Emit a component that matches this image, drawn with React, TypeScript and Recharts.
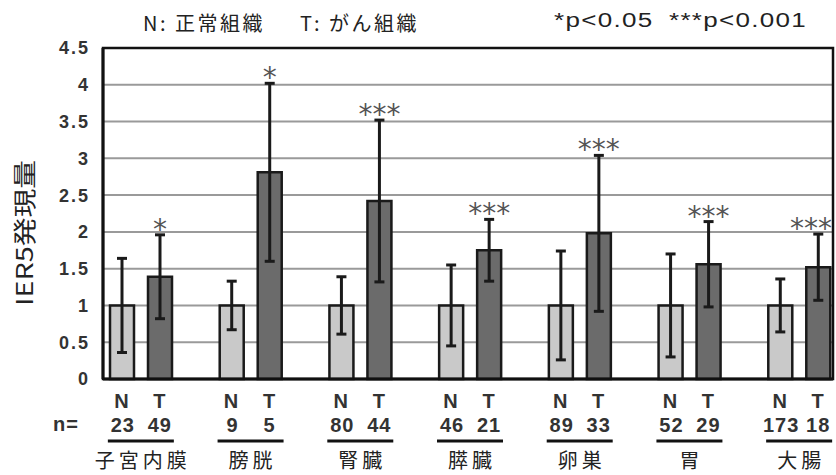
import { BarChart, Bar, XAxis, YAxis, CartesianGrid, ErrorBar, LabelList, Customized } from "recharts";

// tissue types (x categories)
const organs = ["子宮内膜", "膀胱", "腎臓", "膵臓", "卵巣", "胃", "大腸"];
// N = normal tissue, T = cancer tissue
const normalMean = [1, 1, 1, 1, 1, 1, 1];
const normalErr = [0.64, 0.33, 0.39, 0.55, 0.74, 0.7, 0.36];
const tumorMean = [1.39, 2.81, 2.42, 1.75, 1.98, 1.56, 1.52];
const tumorErr = [0.57, 1.21, 1.1, 0.42, 1.06, 0.58, 0.45];
const nNormal = [23, 9, 80, 46, 89, 52, 173];
const nTumor = [49, 5, 44, 21, 33, 29, 18];
const signif = ["*", "*", "***", "***", "***", "***", "***"];
const yTicks = [0, 0.5, 1, 1.5, 2, 2.5, 3, 3.5, 4, 4.5];

const data = organs.map((name, i) => ({
  name,
  normal: normalMean[i],
  normalErr: normalErr[i],
  tumor: tumorMean[i],
  tumorErr: tumorErr[i],
  sig: signif[i],
}));

const SANS = "'Liberation Sans', Arial, sans-serif";
const JP = "'Noto Sans CJK JP', sans-serif";

function OrganTick(props: any) {
  const { x, payload } = props;
  const i = payload.index ?? props.index ?? 0;
  const small = { fontFamily: SANS, fontWeight: "bold", fontSize: 20, fill: "#333", letterSpacing: 1 } as any;
  return (
    <g>
      <text x={x - 19} y={401} textAnchor="middle" dominantBaseline="central" {...small}>N</text>
      <text x={x + 19} y={401} textAnchor="middle" dominantBaseline="central" {...small}>T</text>
      <text x={x - 18} y={425} textAnchor="middle" dominantBaseline="central" {...small}>{nNormal[i]}</text>
      <text x={x + 19} y={425} textAnchor="middle" dominantBaseline="central" {...small}>{nTumor[i]}</text>
      <line x1={x - 33} x2={x + 33} y1={441} y2={441} stroke="#111" strokeWidth={3} />
      <text x={x + 2} y={459} textAnchor="middle" dominantBaseline="central" fontFamily={JP} fontSize={20} letterSpacing={4} fill="#222">{payload.value}</text>
    </g>
  );
}

// significance stars sit just above the upper error cap
function StarLabel(props: any) {
  const { x, y, width, height, value, index } = props;
  const t = tumorMean[index];
  const top = y + height - ((t + tumorErr[index]) * height) / t;
  const half = value.length * 7;
  const cx = Math.min(x + width / 2, 832 - half);
  return (
    <text x={cx} y={top + 4} textAnchor="middle" fontFamily="'DejaVu Sans', sans-serif" fontSize={28} fill="#555">
      {value}
    </text>
  );
}

// box around the plot area
function Frame(props: any) {
  const off = props.offset ?? { left: 103, top: 48, width: 730, height: 331 };
  return <rect x={off.left} y={off.top} width={off.width} height={off.height} fill="none" stroke="#111" strokeWidth={2.5} />;
}

export default function App() {
  return (
    <div style={{ position: "absolute", left: 0, top: 0, width: 836, height: 475, background: "#fff" }}>
      <BarChart
        width={836}
        height={475}
        data={data}
        margin={{ top: 48, right: 3, bottom: 5, left: 43 }}
        barSize={24}
        barGap={14}
      >
        <CartesianGrid vertical={false} stroke="#9a9a9a" strokeWidth={2} />
        <XAxis
          dataKey="name"
          height={91}
          padding={{ left: -17, right: -21 }}
          axisLine={{ stroke: "#111", strokeWidth: 3 }}
          tickLine={false}
          interval={0}
          tick={<OrganTick />}
        />
        <YAxis
          width={60}
          domain={[0, 4.5]}
          ticks={yTicks}
          axisLine={{ stroke: "#111", strokeWidth: 3 }}
          tickLine={false}
          tickMargin={7}
          tick={{ fontFamily: SANS, fontWeight: "bold", fontSize: 18, fill: "#333", letterSpacing: 2 }}
        />
        <Bar dataKey="normal" fill="#c9c9c9" stroke="#1a1a1a" strokeWidth={2.5} isAnimationActive={false}>
          <ErrorBar dataKey="normalErr" width={5} stroke="#1a1a1a" strokeWidth={3} />
        </Bar>
        <Bar dataKey="tumor" fill="#6b6b6b" stroke="#1a1a1a" strokeWidth={2.5} isAnimationActive={false}>
          <ErrorBar dataKey="tumorErr" width={5} stroke="#1a1a1a" strokeWidth={3} />
          <LabelList dataKey="sig" content={<StarLabel />} />
        </Bar>
        <Customized component={<Frame />} />
      </BarChart>
      <div style={{ position: "absolute", left: 143, top: 8, fontFamily: JP, fontSize: 20, color: "#222", whiteSpace: "pre", letterSpacing: 2.5 }}>
        N: 正常組織
      </div>
      <div style={{ position: "absolute", left: 300, top: 8, fontFamily: JP, fontSize: 20, color: "#222", whiteSpace: "pre", letterSpacing: 2.5 }}>
        T: がん組織
      </div>
      <div style={{ position: "absolute", left: 554, top: 9, fontFamily: SANS, fontSize: 20, color: "#222", whiteSpace: "pre", transform: "scaleX(1.3)", transformOrigin: "left center", letterSpacing: 1 }}>
        *p&lt;0.05
      </div>
      <div style={{ position: "absolute", left: 669, top: 9, fontFamily: SANS, fontSize: 20, color: "#222", whiteSpace: "pre", transform: "scaleX(1.3)", transformOrigin: "left center", letterSpacing: 1 }}>
        ***p&lt;0.001
      </div>
      <div
        style={{
          position: "absolute",
          left: 23,
          top: 233,
          transform: "translate(-50%, -50%) rotate(-90deg) scaleX(1.25)",
          fontFamily: JP,
          fontSize: 23,
          color: "#222",
          whiteSpace: "nowrap",
        }}
      >
        IER5発現量
      </div>
      <div style={{ position: "absolute", left: 53, top: 413, fontFamily: SANS, fontWeight: "bold", fontSize: 20, color: "#333", letterSpacing: 1 }}>n=</div>
    </div>
  );
}
